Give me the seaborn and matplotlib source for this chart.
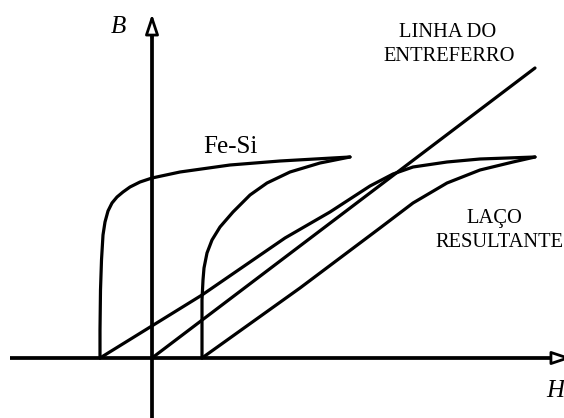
import pandas as pd
import seaborn as sns
import matplotlib.pyplot as plt

# B-H curves (H in units of the Fe-Si coercive field)
fesi_up_H = [-1.04, -1.04, -1.03, -1.01, -0.98, -0.94, -0.88, -0.80, -0.70, -0.58,
             -0.44, -0.24, 0.00, 0.56, 1.56, 2.56, 3.96]
fesi_up_B = [0.00, 0.28, 0.68, 0.98, 1.23, 1.36, 1.47, 1.55, 1.61, 1.66,
             1.71, 1.76, 1.80, 1.86, 1.93, 1.97, 2.01]
fesi_dn_H = [1.00, 1.00, 1.02, 1.04, 1.10, 1.20, 1.36, 1.62, 1.96, 2.30, 2.76, 3.36, 3.96]
fesi_dn_B = [0.00, 0.58, 0.78, 0.90, 1.05, 1.18, 1.31, 1.46, 1.63, 1.75, 1.86, 1.95, 2.01]

gap_H = [0.00, 7.66]
gap_B = [0.00, 2.90]

res_up_H = [-1.04, 1.00, 2.66, 3.56, 4.36, 4.82, 5.22, 5.90, 6.56, 7.66]
res_up_B = [0.00, 0.63, 1.20, 1.46, 1.72, 1.84, 1.91, 1.96, 1.99, 2.01]
res_dn_H = [1.00, 2.96, 4.56, 5.22, 5.90, 6.56, 7.22, 7.66]
res_dn_B = [0.00, 0.70, 1.30, 1.55, 1.75, 1.88, 1.96, 2.01]

curves = {
    'fesi_up': (fesi_up_H, fesi_up_B),
    'fesi_dn': (fesi_dn_H, fesi_dn_B),
    'entreferro': (gap_H, gap_B),
    'res_up': (res_up_H, res_up_B),
    'res_dn': (res_dn_H, res_dn_B),
}
rows = []
for name, (hs, bs) in curves.items():
    for h, b in zip(hs, bs):
        rows.append({'H': h, 'B': b, 'curva': name})
df = pd.DataFrame(rows)

sns.set_style('white')
plt.rcParams['font.family'] = ['Liberation Serif', 'DejaVu Serif']
plt.rcParams['text.color'] = 'black'

fig = plt.figure(figsize=(5.64, 4.18), dpi=100)
ax = fig.add_axes([0, 0, 1, 1])

sns.lineplot(data=df, x='H', y='B', hue='curva', estimator=None,
             sort=False, palette={k: 'black' for k in curves}, legend=False,
             lw=2.3, solid_joinstyle='round', ax=ax)

# axes with open arrow heads
ax.plot([-2.84, 8.10], [0, 0], color='black', lw=2.7, solid_capstyle='butt')
ax.plot([0, 0], [-0.62, 3.26], color='black', lw=2.7, solid_capstyle='butt')
head = dict(arrowstyle='-|>,head_length=1.2,head_width=0.4', fc='white',
            ec='black', lw=2.0, shrinkA=0, shrinkB=0)
ax.annotate('', xy=(0, 3.44), xytext=(0, 3.20), arrowprops=head,
            annotation_clip=False)
ax.annotate('', xy=(8.40, 0), xytext=(8.10, 0), arrowprops=head,
            annotation_clip=False)

ax.text(-0.68, 3.25, 'B', fontsize=18, style='italic', ha='center', va='baseline')
ax.text(8.06, -0.39, 'H', fontsize=18, style='italic', ha='center', va='baseline')
ax.text(1.02, 2.05, 'Fe-Si', fontsize=18, ha='left', va='baseline')
ax.text(5.92, 3.21, 'LINHA DO', fontsize=14.8, ha='center', va='baseline')
ax.text(5.94, 2.97, 'ENTREFERRO', fontsize=14.8, ha='center', va='baseline')
ax.text(6.84, 1.35, 'LAÇO', fontsize=14.8, ha='center', va='baseline')
ax.text(5.66, 1.11, 'RESULTANTE', fontsize=14.8, ha='left', va='baseline')

ax.set_xlim(-3.04, 8.24)
ax.set_ylim(-0.60, 3.58)
ax.set_axis_off()

fig.savefig('out.png', dpi=100)
